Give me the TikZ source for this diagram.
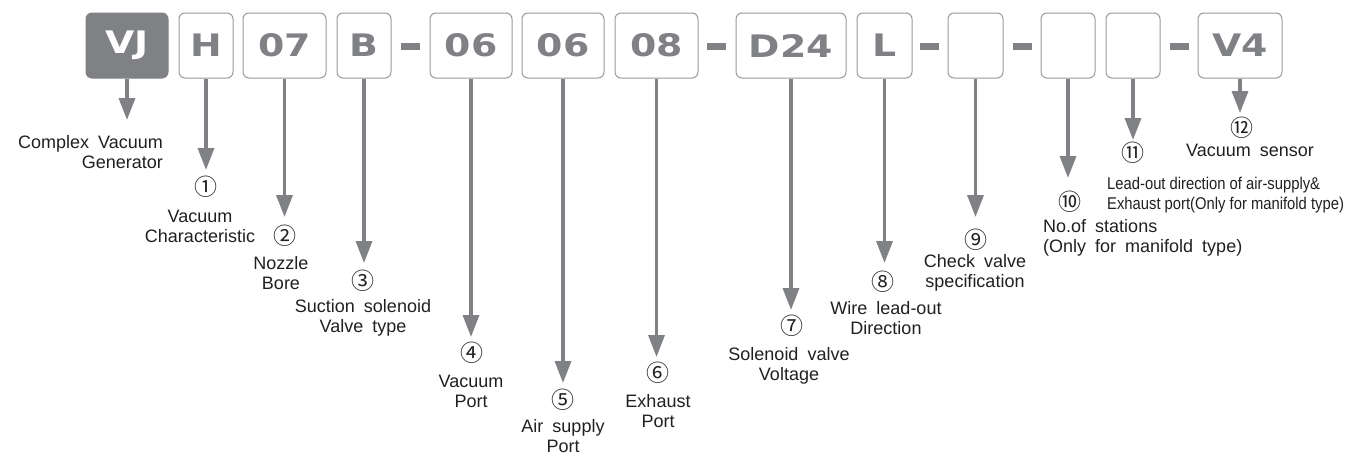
\documentclass[tikz,border=0pt]{standalone}
\usepackage{fontspec}
\setmainfont{Liberation Sans}[WordSpace=1.8]
\newfontfamily\codefont{DejaVu Sans}[FakeStretch=1.22]
\newfontfamily\circfont{Noto Sans CJK JP}
\newfontfamily\narrowfont{Liberation Sans}[FakeStretch=0.87]
\usetikzlibrary{arrows.meta}
\definecolor{ink}{HTML}{808185}
\definecolor{boxline}{HTML}{9A9A9A}
\definecolor{txt}{HTML}{231F20}
\begin{document}
\begin{tikzpicture}[x=1pt,y=-1pt,
  code/.style={draw=boxline, line width=1pt, rounded corners=6pt, minimum height=65pt, inner sep=0pt, text=ink, font=\codefont\bfseries\fontsize{31}{31}\selectfont},
  darkcode/.style={code, fill=ink, draw=ink, text=white},
  dashbar/.style={fill=ink, minimum width=19pt, minimum height=7pt, inner sep=0pt},
  arr/.style={draw=ink, line width=3.5pt, -{Triangle[width=16pt,length=22pt]}},
  num/.style={inner sep=0pt, text=txt, font=\circfont\fontsize{23}{23}\selectfont},
  lab/.style={inner sep=0pt, text=txt, align=center, font=\fontsize{18}{20}\selectfont},
  smalllab/.style={inner sep=0pt, text=txt, align=left, font=\narrowfont\fontsize{17}{20}\selectfont}
]
\useasboundingbox (0,0) rectangle (1349,455);
% code boxes
\node[darkcode, minimum width=82pt] (vj) at (127,45.5) {VJ};
\node[code, minimum width=54pt] (h) at (206,45.5) {H};
\node[code, minimum width=83pt] (bore) at (284.5,45.5) {07};
\node[code, minimum width=54pt] (b) at (364,45.5) {B};
\node[dashbar] (d1) at (410.5,46.5) {};
\node[code, minimum width=82pt] (vp) at (471,45.5) {06};
\node[code, minimum width=82pt] (ap) at (563,45.5) {06};
\node[code, minimum width=83pt] (ep) at (656.5,45.5) {08};
\node[dashbar] (d2) at (716.5,46.5) {};
\node[code, minimum width=110pt] (volt) at (791,45.5) {D24};
\node[code, minimum width=55pt] (wire) at (884.5,45.5) {L};
\node[dashbar] (d3) at (929.5,46.5) {};
\node[code, minimum width=55pt] (chk) at (975.5,45.5) {};
\node[dashbar] (d4) at (1022,46.5) {};
\node[code, minimum width=54pt] (sta) at (1068,45.5) {};
\node[code, minimum width=54pt] (lead) at (1133,45.5) {};
\node[dashbar] (d5) at (1179,46.5) {};
\node[code, minimum width=84pt] (sens) at (1240,45.5) {V4};
% arrow tips
\coordinate (t0) at (vj.south |- 0,120);
\coordinate (t1) at (h.south |- 0,170);
\coordinate (t2) at (bore.south |- 0,217);
\coordinate (t3) at (b.south |- 0,263);
\coordinate (t4) at (vp.south |- 0,337);
\coordinate (t5) at (ap.south |- 0,383);
\coordinate (t6) at (ep.south |- 0,357);
\coordinate (t7) at (volt.south |- 0,310);
\coordinate (t8) at (wire.south |- 0,263);
\coordinate (t9) at (chk.south |- 0,217);
\coordinate (t10) at (sta.south |- 0,178);
\coordinate (t11) at (lead.south |- 0,140);
\coordinate (t12) at (sens.south |- 0,113);
\draw[arr] (vj.south) -- (t0);
\draw[arr] (h.south) -- (t1);
\draw[arr] (bore.south) -- (t2);
\draw[arr] (b.south) -- (t3);
\draw[arr] (vp.south) -- (t4);
\draw[arr] (ap.south) -- (t5);
\draw[arr] (ep.south) -- (t6);
\draw[arr] (volt.south) -- (t7);
\draw[arr] (wire.south) -- (t8);
\draw[arr] (chk.south) -- (t9);
\draw[arr] (sta.south) -- (t10);
\draw[arr] (lead.south) -- (t11);
\draw[arr] (sens.south) -- (t12);
% labels
\node[lab, align=right, anchor=east] (l0) at (163,152) {Complex Vacuum\\Generator};
\node[num] (n1) at (206,187) {①};
\node[lab] (l1) at (200,226) {Vacuum\\Characteristic};
\node[num] (n2) at (285,236) {②};
\node[lab] (l2) at (281,273.5) {Nozzle\\Bore};
\node[num] (n3) at (363,281) {③};
\node[lab] (l3) at (363,317.5) {Suction solenoid\\Valve type};
\node[num] (n4) at (472,353) {④};
\node[lab] (l4) at (471,391) {Vacuum\\Port};
\node[num] (n5) at (563,400) {⑤};
\node[lab] (l5) at (563,436) {Air supply\\Port};
\node[num] (n6) at (658,373) {⑥};
\node[lab] (l6) at (658,411) {Exhaust\\Port};
\node[num] (n7) at (792,326) {⑦};
\node[lab] (l7) at (789,366) {Solenoid valve\\Voltage};
\node[num] (n8) at (883,282) {⑧};
\node[lab] (l8) at (886,318) {Wire lead-out\\Direction};
\node[num] (n9) at (976,240) {⑨};
\node[lab] (l9) at (975,273) {Check valve\\specification};
\node[num] (n10) at (1070,202) {⑩};
\node[lab, align=left, anchor=west] (l10) at (1043,238) {No.of stations\\(Only for manifold type)};
\node[num] (n11) at (1133,153) {⑪};
\node[smalllab, anchor=west] (l11) at (1107,195) {Lead-out direction of air-supply\&\\Exhaust port(Only for manifold type)};
\node[num] (n12) at (1242,128) {⑫};
\node[lab] (l12) at (1250,150) {Vacuum sensor};
\end{tikzpicture}
\end{document}
